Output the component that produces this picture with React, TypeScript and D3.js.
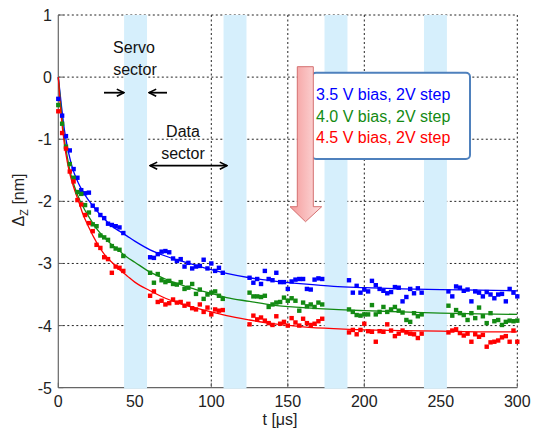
import React from 'react';
import * as d3 from 'd3';

// sample times in µs (no samples inside the servo sectors)
const tSample = [
  0, 2.5, 5, 7.5, 10, 12.5, 15, 17.5, 20, 22.5, 25, 27.5, 30, 32.5, 35, 37.5, 40, 42.5,
  60, 62.5, 65, 67.5, 70, 72.5, 75, 77.5, 80, 82.5, 85, 87.5, 90, 92.5, 95, 97.5, 100, 102.5, 105, 107.5,
  125, 127.5, 130, 132.5, 135, 137.5, 140, 142.5, 145, 147.5, 150, 152.5, 155, 157.5, 160, 162.5, 165, 167.5, 170, 172.5,
  190, 192.5, 195, 197.5, 200, 202.5, 205, 207.5, 210, 212.5, 215, 217.5, 220, 222.5, 225, 227.5, 230, 232.5, 235, 237.5,
  255, 257.5, 260, 262.5, 265, 267.5, 270, 272.5, 275, 277.5, 280, 282.5, 285, 287.5, 290, 292.5, 295, 297.5, 300,
];

const blueVals = [
  -0.35, -0.62, -0.95, -1.18, -1.48, -1.62, -1.82, -1.87, -1.86, -2.07, -2.13, -2.22, -2.27, -2.36, -2.38, -2.4, -2.42, -2.51,
  -2.9, -2.91, -2.85, -2.81, -2.8, -2.82, -2.92, -2.96, -2.93, -3.05, -2.99, -3.08, -3.05, -3.04, -2.94, -3.08, -3.0, -3.12, -3.07, -3.15,
  -3.23, -3.31, -3.25, -3.33, -3.12, -3.25, -3.27, -3.15, -3.3, -3.3, -3.41, -3.29, -3.26, -3.25, -3.25, -3.41, -3.42, -3.26, -3.24, -3.25,
  -3.27, -3.47, -3.36, -3.47, -3.42, -3.45, -3.28, -3.35, -3.41, -3.44, -3.48, -3.46, -3.38, -3.39, -3.61, -3.54, -3.41, -3.48, -3.4, -3.47,
  -3.45, -3.53, -3.37, -3.39, -3.44, -3.42, -3.61, -3.45, -3.47, -3.53, -3.46, -3.5, -3.56, -3.5, -3.49, -3.61, -3.41, -3.47, -3.53,
];

const greenVals = [
  -0.45, -0.75, -1.12, -1.4, -1.62, -1.85, -1.88, -2.06, -2.18, -2.37, -2.4, -2.55, -2.58, -2.62, -2.72, -2.76, -2.78, -2.88,
  -3.15, -3.31, -3.17, -3.27, -3.3, -3.28, -3.33, -3.34, -3.3, -3.41, -3.39, -3.33, -3.49, -3.42, -3.57, -3.5, -3.47, -3.45, -3.52, -3.57,
  -3.47, -3.53, -3.53, -3.54, -3.52, -3.7, -3.66, -3.63, -3.62, -3.55, -3.6, -3.56, -3.6, -3.76, -3.63, -3.69, -3.66, -3.7, -3.63, -3.66,
  -3.74, -3.78, -3.83, -3.84, -3.82, -3.82, -3.67, -3.82, -3.78, -3.7, -3.78, -3.74, -3.7, -3.76, -3.79, -3.91, -3.94, -3.8, -3.85, -3.82,
  -3.68, -3.84, -3.75, -3.8, -3.83, -3.91, -3.8, -3.88, -3.71, -3.85, -3.96, -3.8, -3.93, -3.91, -3.99, -3.94, -3.92, -3.93, -3.92,
];

const redVals = [
  -0.55, -0.9, -1.15, -1.52, -1.68, -1.98, -2.05, -2.22, -2.35, -2.48, -2.7, -2.75, -2.9, -2.93, -3.15, -3.05, -3.07, -3.12,
  -3.52, -3.45, -3.62, -3.6, -3.66, -3.64, -3.58, -3.63, -3.62, -3.68, -3.65, -3.72, -3.74, -3.66, -3.78, -3.71, -3.82, -3.74, -3.76, -3.75,
  -3.98, -3.84, -3.9, -3.87, -3.92, -3.96, -3.99, -3.85, -3.97, -3.94, -4.0, -3.88, -3.95, -4.0, -3.89, -3.96, -3.99, -3.97, -3.93, -3.89,
  -4.11, -4.07, -4.14, -4.07, -3.97, -4.09, -4.1, -4.26, -4.09, -4.1, -3.98, -4.08, -4.17, -4.13, -4.08, -4.11, -4.13, -4.14, -4.2, -4.13,
  -4.11, -4.08, -4.06, -4.12, -4.16, -4.13, -4.26, -4.14, -4.18, -4.15, -4.34, -4.27, -4.26, -4.24, -4.19, -4.17, -4.26, -4.08, -4.26,
];

// fitted curves
const fitT = [0, 2, 4, 6, 8, 10, 13, 16, 20, 25, 30, 35, 40, 45, 50, 60, 70, 80, 90, 100, 110, 125, 140, 160, 180, 200, 225, 250, 275, 300];
const blueFit = [0, -0.45, -0.85, -1.13, -1.35, -1.52, -1.7, -1.84, -1.99, -2.15, -2.28, -2.4, -2.48, -2.56, -2.64, -2.78, -2.88, -2.96, -3.03, -3.1, -3.16, -3.23, -3.28, -3.33, -3.37, -3.39, -3.41, -3.42, -3.43, -3.44];
const greenFit = [0, -0.55, -1.0, -1.3, -1.55, -1.72, -1.92, -2.08, -2.25, -2.44, -2.58, -2.7, -2.8, -2.9, -2.98, -3.14, -3.25, -3.34, -3.42, -3.48, -3.55, -3.61, -3.67, -3.71, -3.74, -3.76, -3.78, -3.8, -3.81, -3.82];
const redFit = [0, -0.65, -1.08, -1.38, -1.6, -1.77, -1.98, -2.2, -2.42, -2.66, -2.85, -2.98, -3.1, -3.2, -3.3, -3.44, -3.56, -3.65, -3.72, -3.78, -3.84, -3.91, -3.97, -4.02, -4.05, -4.07, -4.08, -4.09, -4.1, -4.1];

const servoBands = [[43, 58], [108, 123], [174, 189], [239, 254]];
const xTicks = [0, 50, 100, 150, 200, 250, 300];
const yTicks = [1, 0, -1, -2, -3, -4, -5];

const seriesNames = ['3.5 V bias, 2V step', '4.0 V bias, 2V step', '4.5 V bias, 2V step'];
const seriesColors = ['#0000ff', '#138a13', '#ff0000'];

const W = 534;
const H = 431;
const x = d3.scaleLinear().domain([0, 300]).range([58.3, 517.3]);
const y = d3.scaleLinear().domain([-5, 1]).range([387.7, 15]);

const font = "'Liberation Sans', Arial, sans-serif";

const App = () => {
  const series = [
    { vals: blueVals, fit: blueFit },
    { vals: greenVals, fit: greenFit },
    { vals: redVals, fit: redFit },
  ];
  const line = d3.line<number>()
    .x((_, i) => x(fitT[i]))
    .y(d => y(d))
    .curve(d3.curveMonotoneX);

  const [x0, x1] = x.range();
  const [yb, yt] = y.range();

  return (
    <svg width={W} height={H} style={{ position: 'absolute', left: 0, top: 0, background: '#fff' }} fontFamily={font}>
      <defs>
        <linearGradient id="pink" x1="0" x2="1" y1="0" y2="0">
          <stop offset="0%" stopColor="#f59a9a" />
          <stop offset="100%" stopColor="#fde0e0" />
        </linearGradient>
        <marker id="ah" viewBox="0 0 10 10" refX="9" refY="5" markerWidth="5" markerHeight="5" orient="auto-start-reverse">
          <path d="M1,1 L9,5 L1,9" fill="none" stroke="#000" strokeWidth="1.8" />
        </marker>
      </defs>

      {/* grid */}
      {yTicks.filter(v => v !== -5).map(v => (
        <line key={'gy' + v} x1={x0} x2={x1} y1={y(v)} y2={y(v)} stroke="#222" strokeWidth={1} strokeDasharray="2,2.5" />
      ))}
      {xTicks.filter(v => v !== 0).map(v => (
        <line key={'gx' + v} x1={x(v)} x2={x(v)} y1={yt} y2={yb} stroke="#222" strokeWidth={1} strokeDasharray="2,2.5" />
      ))}

      {/* axes */}
      <line x1={x0} x2={x0} y1={yt} y2={yb} stroke="#666" strokeWidth={1.2} />
      <line x1={x0} x2={x1} y1={yb} y2={yb} stroke="#666" strokeWidth={1.2} />
      {xTicks.map(v => (
        <line key={'tx' + v} x1={x(v)} x2={x(v)} y1={yb} y2={yb - 5} stroke="#666" />
      ))}
      {yTicks.map(v => (
        <line key={'ty' + v} x1={x0} x2={x0 + 5} y1={y(v)} y2={y(v)} stroke="#666" />
      ))}

      {/* servo sectors */}
      {servoBands.map(([a, b]) => (
        <rect key={'b' + a} x={x(a)} y={yt} width={x(b) - x(a)} height={yb - yt + 1} fill="#d6effc" />
      ))}

      {/* tick labels */}
      {xTicks.map(v => (
        <text key={'lx' + v} x={x(v)} y={407} fontSize={16} textAnchor="middle" fill="#222">{v}</text>
      ))}
      {yTicks.map(v => (
        <text key={'ly' + v} x={52} y={y(v) + 6} fontSize={16} textAnchor="end" fill="#222">{v}</text>
      ))}
      <text x={280} y={425} fontSize={16} textAnchor="middle" fill="#222">t [μs]</text>
      <text transform="translate(24,200) rotate(-90)" fontSize={16} textAnchor="middle" fill="#222">
        Δ<tspan fontSize={11} dy={4}>Z</tspan><tspan dy={-4}> [nm]</tspan>
      </text>

      {/* fits */}
      {series.map((s, k) => (
        <path key={'f' + k} d={line(s.fit) || ''} fill="none" stroke={seriesColors[k]} strokeWidth={1.3} />
      ))}
      {/* measured points */}
      {series.map((s, k) => (
        <g key={'p' + k} fill={seriesColors[k]}>
          {s.vals.map((v, i) => (
            <rect key={i} x={x(tSample[i]) - 2.2} y={y(v) - 2.2} width={4.4} height={4.4} />
          ))}
        </g>
      ))}

      {/* annotations */}
      <g fontSize={16} fill="#111" textAnchor="middle">
        <text x={134} y={53}>Servo</text>
        <text x={135} y={75}>sector</text>
        <text x={183} y={137}>Data</text>
        <text x={183} y={159}>sector</text>
      </g>
      <line x1={104} x2={124} y1={92.7} y2={92.7} stroke="#000" strokeWidth={1.8} markerEnd="url(#ah)" />
      <line x1={167} x2={149} y1={92.7} y2={92.7} stroke="#000" strokeWidth={1.8} markerEnd="url(#ah)" />
      <line x1={150} x2={227} y1={165.7} y2={165.7} stroke="#000" strokeWidth={1.8} markerStart="url(#ah)" markerEnd="url(#ah)" />

      {/* legend */}
      <rect x={312} y={72.7} width={158} height={86.3} rx={4} fill="#fff" stroke="#4f81bd" strokeWidth={2} />
      {seriesNames.map((n, k) => (
        <text key={n} x={316} y={100 + k * 21.7} fontSize={16} fill={seriesColors[k]}>{n}</text>
      ))}

      {/* pink arrow */}
      <path d="M297.3,66.7 L313.3,66.7 L313.3,206.7 L321.7,206.7 L305.5,221.7 L290,206.7 L297.3,206.7 Z"
        fill="url(#pink)" stroke="#d47070" strokeWidth={1} />
    </svg>
  );
};

export default App;
